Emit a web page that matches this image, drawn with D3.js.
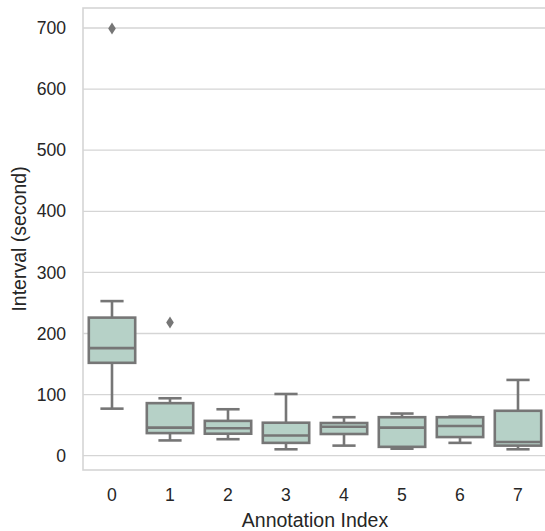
<!DOCTYPE html>
<html>
<head>
<meta charset="utf-8">
<script src="https://cdn.jsdelivr.net/npm/d3@7"></script>
<style>
  body { margin: 0; background: #fff; }
  svg { display: block; font-family: "Liberation Sans", Arial, sans-serif; }
</style>
</head>
<body>
<div id="chart"></div>
<script>
// box statistics (seconds)
const categories = ["0", "1", "2", "3", "4", "5", "6", "7"];
const whiskerLow  = [77, 25, 27, 10.5, 16.5, 11.5, 21, 10.5];
const q1          = [152, 37, 36, 21, 35.5, 14.5, 30.5, 16.5];
const medians     = [176, 46, 45, 33, 47.5, 46, 48.5, 22.5];
const q3          = [226, 86, 57, 54, 53.5, 63, 63, 73.5];
const whiskerHigh = [253, 94, 76, 101, 63, 69, 64, 124];
const outliers    = [[699], [218], [], [], [], [], [], []];
const yTicks = [0, 100, 200, 300, 400, 500, 600, 700];

const margin = { top: 8, right: 0, bottom: 61, left: 83 };
const width = 464;   // plot runs a little past the right edge of the picture
const height = 531 - margin.top - margin.bottom;

const boxFill = "#b6d1c7";
const lineCol = "#767676";
const gridCol = "#d5d5d5";
const textCol = "#262626";

const svg = d3.select("#chart").append("svg")
    .attr("width", 545)
    .attr("height", 531);

const g = svg.append("g")
    .attr("transform", `translate(${margin.left},${margin.top})`);

const x = d3.scaleBand()
    .domain(categories)
    .range([0, width])
    .paddingInner(0)
    .paddingOuter(0);

const y = d3.scaleLinear()
    .domain([-23.4, 732.7])
    .range([height, 0]);

// grid
g.append("g")
    .selectAll("line")
    .data(yTicks)
    .enter().append("line")
    .attr("x1", 0)
    .attr("x2", width)
    .attr("y1", d => y(d))
    .attr("y2", d => y(d))
    .attr("stroke", gridCol)
    .attr("stroke-width", 1.3);

// spines
g.append("rect")
    .attr("x", 0)
    .attr("y", 0)
    .attr("width", width)
    .attr("height", height)
    .attr("fill", "none")
    .attr("stroke", gridCol)
    .attr("stroke-width", 1.6);

// axes
const yAxis = g.append("g")
    .call(d3.axisLeft(y).tickValues(yTicks).tickSize(0).tickPadding(17));
yAxis.select(".domain").remove();
yAxis.selectAll("text")
    .attr("fill", textCol)
    .style("font-size", "17.6px");

const xAxis = g.append("g")
    .attr("transform", `translate(0,${height})`)
    .call(d3.axisBottom(x).tickSize(0).tickPadding(19));
xAxis.select(".domain").remove();
xAxis.selectAll("text")
    .attr("fill", textCol)
    .style("font-size", "17.6px");

// axis labels
svg.append("text")
    .attr("x", margin.left + width / 2)
    .attr("y", 527)
    .attr("text-anchor", "middle")
    .attr("fill", textCol)
    .style("font-size", "19.5px")
    .text("Annotation Index");

svg.append("text")
    .attr("transform", `translate(26,${margin.top + height / 2}) rotate(-90)`)
    .attr("text-anchor", "middle")
    .attr("fill", textCol)
    .style("font-size", "19.5px")
    .text("Interval (second)");

// boxes
const bw = x.bandwidth() * 0.8;
const boxes = g.append("g")
    .selectAll("g")
    .data(categories.map((c, i) => ({
        cat: c, lo: whiskerLow[i], q1: q1[i], med: medians[i],
        q3: q3[i], hi: whiskerHigh[i], out: outliers[i]
    })))
    .enter().append("g")
    .attr("transform", d => `translate(${x(d.cat) + x.bandwidth() / 2},0)`);

const lw = 2.6;

// whiskers
boxes.append("line")
    .attr("x1", 0).attr("x2", 0)
    .attr("y1", d => y(d.q3)).attr("y2", d => y(d.hi))
    .attr("stroke", lineCol).attr("stroke-width", lw);
boxes.append("line")
    .attr("x1", 0).attr("x2", 0)
    .attr("y1", d => y(d.q1)).attr("y2", d => y(d.lo))
    .attr("stroke", lineCol).attr("stroke-width", lw);

// caps
boxes.append("line")
    .attr("x1", -bw / 4).attr("x2", bw / 4)
    .attr("y1", d => y(d.hi)).attr("y2", d => y(d.hi))
    .attr("stroke", lineCol).attr("stroke-width", lw);
boxes.append("line")
    .attr("x1", -bw / 4).attr("x2", bw / 4)
    .attr("y1", d => y(d.lo)).attr("y2", d => y(d.lo))
    .attr("stroke", lineCol).attr("stroke-width", lw);

// box body
boxes.append("rect")
    .attr("x", -bw / 2)
    .attr("width", bw)
    .attr("y", d => y(d.q3))
    .attr("height", d => y(d.q1) - y(d.q3))
    .attr("fill", boxFill)
    .attr("stroke", lineCol)
    .attr("stroke-width", lw);

// median
boxes.append("line")
    .attr("x1", -bw / 2).attr("x2", bw / 2)
    .attr("y1", d => y(d.med)).attr("y2", d => y(d.med))
    .attr("stroke", lineCol).attr("stroke-width", lw);

// outliers (diamonds)
boxes.selectAll("path")
    .data(d => d.out)
    .enter().append("path")
    .attr("d", v => {
        const cy = y(v);
        return `M0,${cy - 6}L3.8,${cy}L0,${cy + 6}L-3.8,${cy}Z`;
    })
    .attr("fill", lineCol);
</script>
</body>
</html>
